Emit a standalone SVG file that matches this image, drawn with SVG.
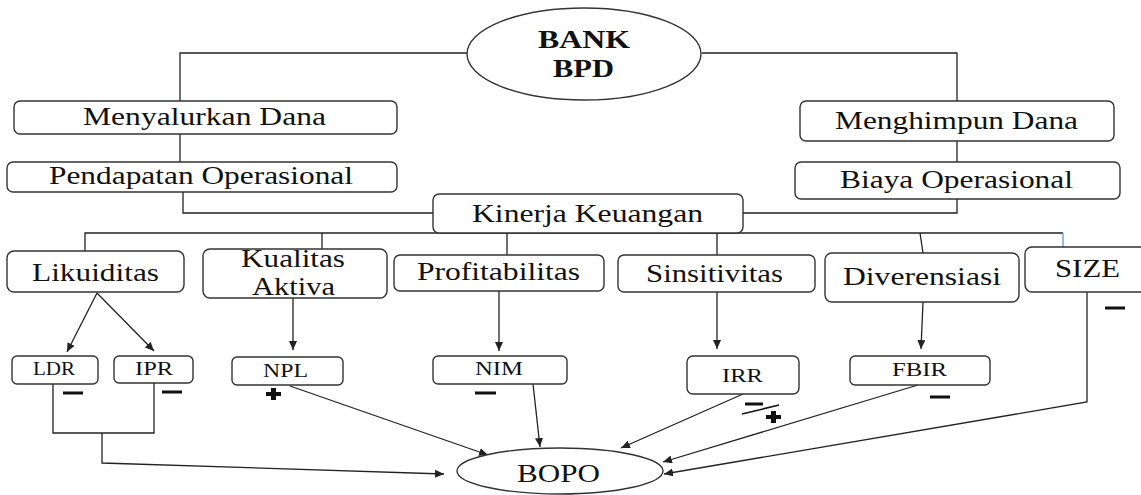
<svg xmlns="http://www.w3.org/2000/svg" width="1141" height="495" viewBox="0 0 1141 495">
<style>
.box{fill:#fff;stroke:#333;stroke-width:1.4}
.ln{fill:none;stroke:#222;stroke-width:1.3}
text{font-family:'Liberation Serif','Times New Roman',Times,'DejaVu Serif',serif;fill:#111}
.t{font-size:26px}
.s{font-size:19px}
.b{font-size:26px;font-weight:bold}
.sg{fill:#111}
</style>
<defs>
<marker id="ah" markerUnits="userSpaceOnUse" markerWidth="10" markerHeight="8" refX="9" refY="4" orient="auto">
<path d="M0,0 L9,4 L0,8 Z" fill="#222"/>
</marker>
</defs>
<g id="connectors">
<path class="ln" d="M180,101 V53 H467"/>
<path class="ln" d="M702,53 H957 V101"/>
<path class="ln" d="M180,134 V162"/>
<path class="ln" d="M957,141 V162"/>
<path class="ln" d="M183,192 V213 H433"/>
<path class="ln" d="M957,199 V213 H743"/>
<path class="ln" d="M85,251 V233 H1063"/>
<path class="ln" d="M322,233 V249 M507,233 V255 M717,233 V255 M920,233 L923,253"/>
<path d="M1063,233 V247" fill="none" stroke="#5b9bd5" stroke-width="1.3"/>
<path class="ln" d="M97,293 L67,352" marker-end="url(#ah)"/>
<path class="ln" d="M97,293 L154,351" marker-end="url(#ah)"/>
<path class="ln" d="M293,298 V350" marker-end="url(#ah)"/>
<path class="ln" d="M499,291 V351" marker-end="url(#ah)"/>
<path class="ln" d="M717,292 V349" marker-end="url(#ah)"/>
<path class="ln" d="M923,302 L921,349" marker-end="url(#ah)"/>
<path class="ln" d="M53,384 V433 H154 V383"/>
<path class="ln" d="M102,433 V463 L444,474" marker-end="url(#ah)"/>
<path class="ln" d="M290,386 L488,455" marker-end="url(#ah)"/>
<path class="ln" d="M533,384 L540,447" marker-end="url(#ah)"/>
<path class="ln" d="M743,394 L621,448" marker-end="url(#ah)"/>
<path class="ln" d="M918,385 L663,462" marker-end="url(#ah)"/>
<path class="ln" d="M1087,292 V402 L664,474" marker-end="url(#ah)"/>
</g>
<g id="bank">
<ellipse class="box" cx="584" cy="54" rx="117" ry="46"/>
<text class="b" x="538" y="48" textLength="92" lengthAdjust="spacingAndGlyphs">BANK</text>
<text class="b" x="553" y="77" textLength="61" lengthAdjust="spacingAndGlyphs">BPD</text>
</g>
<g id="menyalurkan">
<rect class="box" x="14" y="101" width="383" height="33" rx="6"/>
<text class="t" x="83" y="125" textLength="243" lengthAdjust="spacingAndGlyphs">Menyalurkan Dana</text>
</g>
<g id="pendapatan">
<rect class="box" x="7" y="162" width="390" height="30" rx="6"/>
<text class="t" x="49" y="184" textLength="304" lengthAdjust="spacingAndGlyphs">Pendapatan Operasional</text>
</g>
<g id="menghimpun">
<rect class="box" x="800" y="101" width="314" height="40" rx="6"/>
<text class="t" x="835" y="129" textLength="243" lengthAdjust="spacingAndGlyphs">Menghimpun Dana</text>
</g>
<g id="biaya">
<rect class="box" x="795" y="162" width="325" height="37" rx="6"/>
<text class="t" x="840" y="188" textLength="233" lengthAdjust="spacingAndGlyphs">Biaya Operasional</text>
</g>
<g id="kinerja">
<rect class="box" x="433" y="194" width="310" height="39" rx="6"/>
<text class="t" x="472" y="222" textLength="231" lengthAdjust="spacingAndGlyphs">Kinerja Keuangan</text>
</g>
<g id="likuiditas">
<rect class="box" x="7" y="251" width="177" height="41" rx="7"/>
<text class="t" x="32" y="281" textLength="127" lengthAdjust="spacingAndGlyphs">Likuiditas</text>
</g>
<g id="kualitas">
<rect class="box" x="203" y="249" width="184" height="49" rx="7"/>
<text class="t" x="241" y="267" textLength="104" lengthAdjust="spacingAndGlyphs">Kualitas</text>
<text class="t" x="252" y="295" textLength="83" lengthAdjust="spacingAndGlyphs">Aktiva</text>
</g>
<g id="profitabilitas">
<rect class="box" x="394" y="255" width="210" height="36" rx="6"/>
<text class="t" x="417" y="280" textLength="163" lengthAdjust="spacingAndGlyphs">Profitabilitas</text>
</g>
<g id="sinsitivitas">
<rect class="box" x="618" y="255" width="197" height="37" rx="6"/>
<text class="t" x="646" y="282" textLength="137" lengthAdjust="spacingAndGlyphs">Sinsitivitas</text>
</g>
<g id="diverensiasi">
<rect class="box" x="825" y="253" width="194" height="49" rx="7"/>
<text class="t" x="843" y="285" textLength="158" lengthAdjust="spacingAndGlyphs">Diverensiasi</text>
</g>
<g id="size">
<rect class="box" x="1025" y="247" width="130" height="45" rx="7"/>
<text class="t" x="1055" y="277" textLength="65" lengthAdjust="spacingAndGlyphs">SIZE</text>
</g>
<g id="ldr">
<rect class="box" x="12" y="356" width="86" height="28" rx="5"/>
<text class="s" x="33" y="375" textLength="42" lengthAdjust="spacingAndGlyphs">LDR</text>
</g>
<g id="ipr">
<rect class="box" x="114" y="356" width="79" height="27" rx="5"/>
<text class="s" x="135" y="375" textLength="38" lengthAdjust="spacingAndGlyphs">IPR</text>
</g>
<g id="npl">
<rect class="box" x="232" y="357" width="111" height="28" rx="5"/>
<text class="s" x="263" y="377" textLength="45" lengthAdjust="spacingAndGlyphs">NPL</text>
</g>
<g id="nim">
<rect class="box" x="433" y="356" width="134" height="28" rx="5"/>
<text class="s" x="475" y="375" textLength="48" lengthAdjust="spacingAndGlyphs">NIM</text>
</g>
<g id="irr">
<rect class="box" x="687" y="356" width="112" height="38" rx="6"/>
<text class="s" x="722" y="382" textLength="41" lengthAdjust="spacingAndGlyphs">IRR</text>
</g>
<g id="fbir">
<rect class="box" x="850" y="356" width="140" height="29" rx="5"/>
<text class="s" x="892" y="376" textLength="55" lengthAdjust="spacingAndGlyphs">FBIR</text>
</g>
<g id="bopo">
<ellipse class="box" cx="560" cy="471" rx="103" ry="23"/>
<text class="t" x="517" y="482" textLength="83" lengthAdjust="spacingAndGlyphs">BOPO</text>
</g>
<g id="signs">
<rect class="sg" x="63" y="391.5" width="20" height="3"/>
<rect class="sg" x="162" y="390.5" width="20" height="3"/>
<path class="sg" d="M271,388 h5 v4 h5 v4 h-5 v4 h-5 v-4 h-5 v-4 h5 Z"/>
<rect class="sg" x="475" y="391.5" width="21" height="3"/>
<rect class="sg" x="745" y="402.5" width="18" height="3"/>
<path d="M742,414 L779,405" stroke="#111" stroke-width="1.5"/>
<path class="sg" d="M771,411 h5 v4 h5 v4 h-5 v4 h-5 v-4 h-5 v-4 h5 Z"/>
<rect class="sg" x="930" y="395.5" width="20" height="3"/>
<rect class="sg" x="1105" y="306.5" width="20" height="3"/>
</g>
</svg>
